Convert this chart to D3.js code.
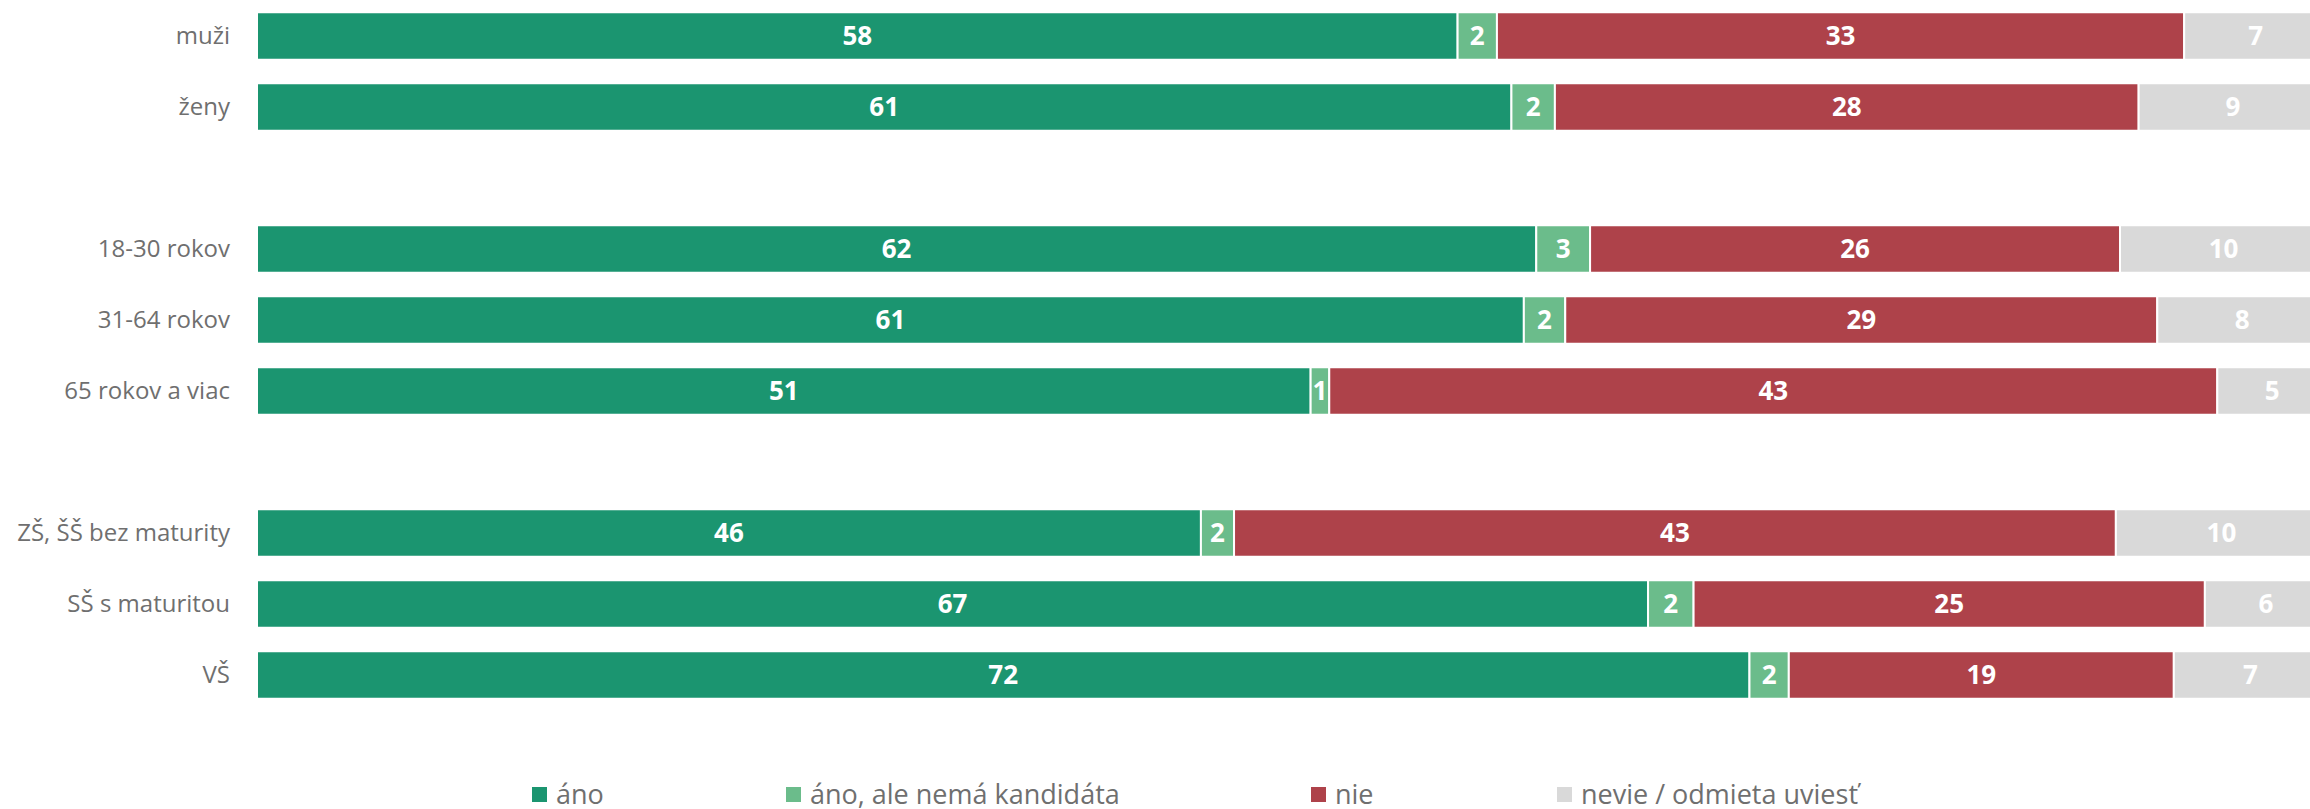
<!DOCTYPE html>
<html>
<head>
<meta charset="utf-8">
<script src="https://cdn.jsdelivr.net/npm/d3@7"></script>
<style>
  body { margin: 0; background: #fff; }
  svg { display: block; font-family: "Open Sans", sans-serif; }
</style>
</head>
<body>
<div id="chart"></div>
<script>
// rows (blank keys are the spacer rows between groups)
var categories = ["muži", "ženy", "", "18-30 rokov", "31-64 rokov", "65 rokov a viac", " ", "ZŠ, ŠŠ bez maturity", "SŠ s maturitou", "VŠ"];

var seriesNames = ["áno", "áno, ale nemá kandidáta", "nie", "nevie / odmieta uviesť"];

// shares in % (labels are these rounded)
var ano      = [58.0, 60.6, null, 61.8, 61.2, 50.9, null, 45.6, 67.2, 72.1];
var anoBez   = [1.9, 2.1, null, 2.6, 2.0, 0.9, null, 1.6, 2.2, 1.9];
var nie      = [33.2, 28.2, null, 25.6, 28.6, 42.9, null, 42.6, 24.7, 18.6];
var nevie    = [6.9, 9.1, null, 10.0, 8.2, 5.3, null, 10.2, 5.9, 7.4];

var colors = ["#1b9570", "#6bbc8b", "#ae424a", "#d9d9d9"];

var svgWidth = 2310;
var svgHeight = 809;

var svg = d3.select("#chart")
  .append("svg")
  .attr("width", svgWidth)
  .attr("height", svgHeight);

// build rows for stacking
var rows = categories.map(function (c, i) {
  return { cat: c, "áno": ano[i], "áno, ale nemá kandidáta": anoBez[i], "nie": nie[i], "nevie / odmieta uviesť": nevie[i] };
}).filter(d => d["áno"] != null);

var stack = d3.stack().keys(seriesNames);
var stacked = stack(rows);

// plot runs past the right edge of the picture, as in the original
var x = d3.scaleLinear()
  .domain([0, 100])
  .range([257, 2327]);

var y = d3.scaleBand()
  .domain(categories)
  .range([0.5, 710.5])
  .paddingInner(0.331)
  .paddingOuter(0.1655);

// bars
var layers = svg.selectAll("g.layer")
  .data(stacked)
  .enter()
  .append("g")
  .attr("class", "layer")
  .attr("fill", (d, i) => colors[i]);

layers.selectAll("rect")
  .data(d => d)
  .enter()
  .append("rect")
  .attr("x", d => x(d[0]))
  .attr("y", d => y(d.data.cat))
  .attr("width", d => x(d[1]) - x(d[0]))
  .attr("height", y.bandwidth())
  .attr("stroke", "#fff")
  .attr("stroke-width", 2);

// value labels
layers.selectAll("text")
  .data(d => d.map(p => ({ p: p, key: d.key })))
  .enter()
  .append("text")
  .attr("x", d => (x(d.p[0]) + x(d.p[1])) / 2)
  .attr("y", d => y(d.p.data.cat) + y.bandwidth() / 2)
  .attr("dy", "0.36em")
  .style("text-anchor", "middle")
  .style("font-size", "26px")
  .style("font-weight", "bold")
  .style("fill", "#fff")
  .text(d => Math.round(d.p.data[d.key]));

// category axis
var leftAxis = d3.axisLeft(y)
  .tickSize(0)
  .tickPadding(27);

var axisG = svg.append("g")
  .attr("transform", `translate(${x(0)}, 0)`)
  .call(leftAxis);

axisG.select(".domain").remove();
axisG.selectAll("text")
  .style("font-family", "'Open Sans', sans-serif")
  .style("font-size", "24px")
  .style("fill", "#6f6f6f");

// legend
var legendX = [532, 786, 1311, 1557];

var legend = svg.append("g")
  .attr("transform", "translate(0, 787)");

seriesNames.forEach(function (name, i) {
  var item = legend.append("g")
    .attr("transform", `translate(${legendX[i]}, 0)`);
  item.append("rect")
    .attr("width", 15)
    .attr("height", 15)
    .attr("fill", colors[i]);
  item.append("text")
    .attr("x", 24)
    .attr("y", 7.5)
    .attr("dy", "0.36em")
    .style("font-size", "27px")
    .style("fill", "#6f6f6f")
    .text(name);
});
</script>
</body>
</html>
